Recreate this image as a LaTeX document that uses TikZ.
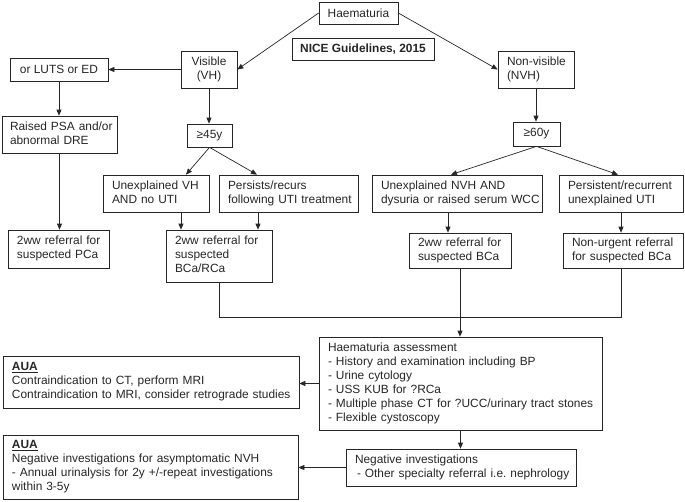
\documentclass[tikz,border=0pt]{standalone}
\usepackage{fontspec}
\setmainfont{Liberation Sans}
\usetikzlibrary{arrows.meta}
\newcommand\Lb[2][9pt]{\hspace*{#1}\begin{tabular}{@{}l@{}}#2\end{tabular}}
\begin{document}
\begin{tikzpicture}[x=1pt,y=-1pt,
  box/.style={draw=black!85, line width=0.7pt, inner sep=0pt, text=black!85,
    font=\fontsize{11.9}{14}\selectfont},
  cb/.style={box, align=center},
  lb/.style={box, align=left},
  arr/.style={draw=black!85, line width=0.7pt, -{Triangle[length=6pt,width=5pt]}},
  ln/.style={draw=black!85, line width=0.7pt}]
\useasboundingbox (0,0) rectangle (685,501);

\node[cb, minimum width=79pt, minimum height=22pt] (haem) at (358.5,13) {Haematuria};
\node[cb, minimum width=142pt, minimum height=22pt] (nice) at (363,49) {\textbf{NICE Guidelines, 2015}};
\node[cb, minimum width=56pt, minimum height=37pt] (vis) at (209,69.5) {Visible\\(VH)};
\node[lb, text width=76pt, minimum height=37pt] (nvis) at (536,69.5) {\Lb[9pt]{Non-visible\\(NVH)}};
\node[cb, minimum width=98pt, minimum height=23pt] (luts) at (59,69.5) {or LUTS or ED};
\node[lb, text width=115pt, minimum height=37pt] (psa) at (59.5,134.5) {\Lb[8pt]{Raised PSA and/or\\abnormal DRE}};
\node[cb, minimum width=45pt, minimum height=23pt] (a45) at (209.5,135.5) {≥45y};
\node[cb, minimum width=47pt, minimum height=24pt] (a60) at (536.5,134) {≥60y};
\node[lb, text width=106pt, minimum height=37pt] (uvh) at (156,193.5) {\Lb{Unexplained VH\\AND no UTI}};
\node[lb, text width=139pt, minimum height=37pt] (per) at (288.5,193.5) {\Lb[9pt]{Persists/recurs\\following UTI treatment}};
\node[lb, text width=170pt, minimum height=37pt] (unvh) at (457,193.5) {\Lb{Unexplained NVH AND\\dysuria or raised serum WCC}};
\node[lb, text width=124pt, minimum height=37pt] (pers) at (621,193.5) {\Lb[9pt]{Persistent/recurrent\\unexplained UTI}};
\node[lb, text width=101pt, minimum height=38pt] (pca) at (58.5,249) {\Lb{2ww referral for\\suspected PCa}};
\node[lb, text width=106pt, minimum height=52pt] (bcr) at (219,256) {\Lb{2ww referral for\\suspected\\BCa/RCa}};
\node[lb, text width=102pt, minimum height=35pt] (bca) at (460,250.5) {\Lb{2ww referral for\\suspected BCa}};
\node[lb, text width=120pt, minimum height=35pt] (nur) at (623,250.5) {\Lb{Non-urgent referral\\for suspected BCa}};
\node[lb, text width=283pt, minimum height=93pt] (assess) at (460.5,383.5) {\Lb[9pt]{Haematuria assessment\\- History and examination including BP\\- Urine cytology\\- USS KUB for ?RCa\\- Multiple phase CT for ?UCC/urinary tract stones\\- Flexible cystoscopy}};
\node[lb, text width=230pt, minimum height=37pt] (neg) at (461,467.5) {\Lb{Negative investigations\\\hspace*{2pt}- Other specialty referral i.e.\ nephrology}};
\node[lb, text width=296pt, minimum height=52pt] (aua1) at (151,382) {\Lb{\underline{\textbf{AUA}}\\Contraindication to CT, perform MRI\\Contraindication to MRI, consider retrograde studies}};
\node[lb, text width=295pt, minimum height=64pt] (aua2) at (150.5,467) {\Lb{\underline{\textbf{AUA}}\\Negative investigations for asymptomatic NVH\\- Annual urinalysis for 2y +/-repeat investigations\\within 3-5y}};

\draw[arr] (haem.west) -- (vis.east);
\draw[arr] (haem.east) -- (nvis.west);
\draw[arr] (vis.west) -- (luts.east);
\draw[arr] (luts.south) -- (luts.south |- psa.north);
\draw[arr] (psa.south) -- (psa.south |- pca.north);
\draw[arr] (vis.south) -- (vis.south |- a45.north);
\draw[arr] (a45.south) -- ([xshift=30pt]uvh.north);
\draw[arr] (a45.south) -- ([xshift=-31.5pt]per.north);
\draw[arr] ([xshift=25pt]uvh.south) -- ([xshift=25pt]uvh.south |- bcr.north);
\draw[arr] ([xshift=-30.5pt]per.south) -- ([xshift=-30.5pt]per.south |- bcr.north);
\draw[arr] (nvis.south) -- (nvis.south |- a60.north);
\draw[arr] (a60.south) -- ([xshift=-6pt]unvh.north);
\draw[arr] (a60.south) -- ([xshift=-3pt]pers.north);
\draw[arr] ([xshift=-9pt]unvh.south) -- ([xshift=-9pt]unvh.south |- bca.north);
\draw[arr] (pers.south) -- (pers.south |- nur.north);
\draw[ln] (bcr.south) -- ++(0,35) -| ([xshift=-2pt]nur.south);
\draw[arr] (bca.south) -- (bca.south |- assess.north);
\draw[arr] (assess.south) -- (assess.south |- neg.north);
\draw[arr] (assess.west) -- (assess.west -| aua1.east);
\draw[arr] (neg.west) -- (neg.west -| aua2.east);
\end{tikzpicture}
\end{document}
